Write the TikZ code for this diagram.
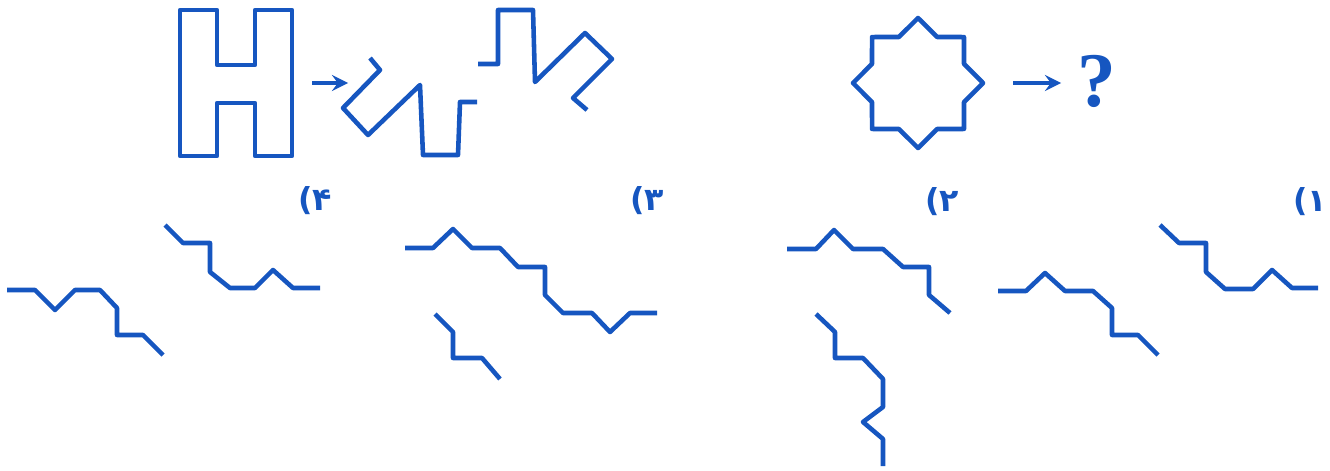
\documentclass[tikz,border=0pt]{standalone}
\usepackage{fontspec}
\usetikzlibrary{calc}
\newfontfamily\arabicfont[Script=Arabic]{DejaVu Sans}
\newfontfamily\qfont{Liberation Serif}
\definecolor{inkblue}{RGB}{22,86,192}
\tikzset{
  fig/.style={inkblue, line width=1.3pt, line join=round},
  lbl/.style={inkblue, font=\arabicfont\bfseries\small, inner sep=0pt}
}
\begin{document}
\begin{tikzpicture}[>=stealth, x=0.1mm, y=-0.1mm]
	\useasboundingbox (0,0) rectangle (1330,470);
	% the H and what it becomes
	\draw[fig] (180,10) -- (217,10) -- (217,65) -- (255,65) -- (255,10) -- (292,10)
		-- (292,156) -- (255,156) -- (255,103) -- (217,103) -- (217,156) -- (180,156) -- cycle;
	\coordinate (A1) at (312,83);
	\coordinate (A2) at (348,83);
	\draw[fig, line width=1pt, ->] (A1) -- (A2);
	\draw[fig] (370,58) -- (380,70) -- (343,108) -- (368,135) -- (420,85) -- (423,155)
		-- (458,155) -- (460,102) -- (477,102);
	\draw[fig] (478,64) -- (498,64) -- (498,10) -- (533,10) -- (535,82) -- (585,33)
		-- (612,59) -- (573,98) -- (587,110);
	% the star
	\coordinate (S) at (918,83);
	\draw[fig] ($(S)+(90:65)$)
		\foreach \k in {0,...,7} {
			-- ($(S)+(90-\k*45-22.5:49.8)$) -- ($(S)+(90-\k*45-45:65)$)
		} -- cycle;
	\coordinate (B1) at (1013,83);
	\coordinate (B2) at (1061,83);
	\draw[fig, line width=1pt, ->] (B1) -- (B2);
	\node[inkblue, font=\qfont\fontsize{22}{26}\selectfont\bfseries, inner sep=0pt] (q) at (1097,81) {?};
	% labels
	\node[lbl] (l4) at (315,201) {۴)};
	\node[lbl] (l3) at (647,201) {۳)};
	\node[lbl] (l2) at (942,202) {۲)};
	\node[lbl] (l1) at (1310,202) {۱)};
	% option 4
	\draw[fig] (165,225) -- (183,243) -- (210,243) -- (210,272) -- (230,288) -- (255,288)
		-- (273,270) -- (293,288) -- (320,288);
	\draw[fig] (7,290) -- (35,290) -- (55,310) -- (75,290) -- (100,290) -- (117,308)
		-- (117,335) -- (143,335) -- (163,355);
	% option 3
	\draw[fig] (405,248) -- (433,248) -- (453,229) -- (472,248) -- (500,248) -- (518,267)
		-- (545,267) -- (545,295) -- (563,313) -- (592,313) -- (610,332) -- (630,313) -- (657,313);
	\draw[fig] (435,314) -- (453,332) -- (453,358) -- (482,358) -- (500,379);
	% option 2
	\draw[fig] (787,249) -- (816,249) -- (834,230) -- (853,249) -- (883,249) -- (903,267)
		-- (929,267) -- (929,295) -- (950,313);
	\draw[fig] (816,314) -- (835,332) -- (835,358) -- (863,358) -- (883,379) -- (883,407)
		-- (863,422) -- (883,439) -- (883,466);
	% option 1
	\draw[fig] (1160,225) -- (1179,243) -- (1206,243) -- (1206,272) -- (1225,289) -- (1253,289)
		-- (1272,270) -- (1292,288) -- (1318,288);
	\draw[fig] (998,291) -- (1026,291) -- (1045,273) -- (1065,291) -- (1093,291) -- (1112,308)
		-- (1112,335) -- (1138,335) -- (1158,355);
\end{tikzpicture}
\end{document}
